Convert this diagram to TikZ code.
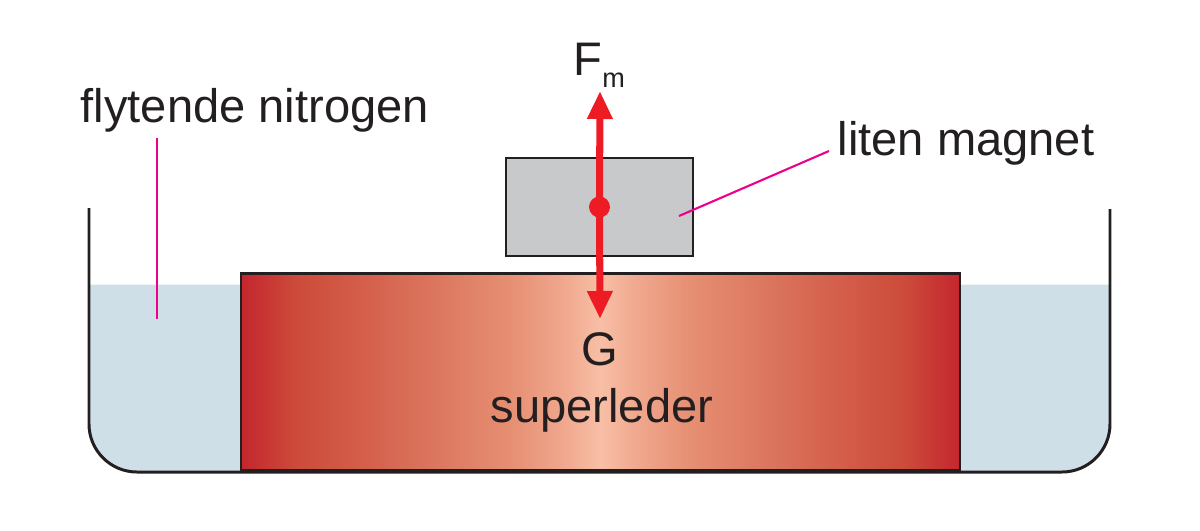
\documentclass[tikz,border=0pt]{standalone}
\usepackage{fontspec}
\setmainfont{Liberation Sans}
\usepackage{tikz}
\usetikzlibrary{arrows.meta, calc}
\definecolor{tankline}{HTML}{231F20}
\definecolor{nitrogen}{HTML}{CEDFE7}
\definecolor{magnetgray}{HTML}{C8C9CB}
\definecolor{scA}{HTML}{C4262E}
\definecolor{scB}{HTML}{CC4A3A}
\definecolor{scC}{HTML}{D4604C}
\definecolor{scD}{HTML}{DC785F}
\definecolor{scE}{HTML}{E68F73}
\definecolor{scF}{HTML}{F0A88E}
\definecolor{scG}{HTML}{F8BFA6}
\definecolor{forcered}{HTML}{ED1C24}
\definecolor{pointercol}{HTML}{EC008C}
\pgfdeclarehorizontalshading{scgradient}{100bp}{%
  color(0bp)=(scA); color(25bp)=(scA); color(28.75bp)=(scB);
  color(33.75bp)=(scC); color(38.75bp)=(scD); color(43.75bp)=(scE);
  color(47.5bp)=(scF); color(50bp)=(scG); color(52.5bp)=(scF);
  color(56.25bp)=(scE); color(61.25bp)=(scD); color(66.25bp)=(scC);
  color(71.25bp)=(scB); color(75bp)=(scA); color(100bp)=(scA)}

\begin{document}
\begin{tikzpicture}[
  txt/.style={inner sep=0pt, font=\fontsize{13.4}{16}\selectfont, text=tankline},
  wall/.style={draw=tankline, line width=0.85pt},
  force/.style={-{Triangle[length=2.8mm, width=2.4mm]}, line width=2pt,
    color=forcered},
  pointer/.style={draw=pointercol, line width=0.6pt},
]
  \useasboundingbox (0,0) rectangle (12,5.3);

  % Liquid nitrogen in the tank
  \fill[nitrogen] (0.89,2.455) -- (0.89,1.06)
    arc[start angle=180, end angle=270, radius=0.48] -- (10.62,0.58)
    arc[start angle=270, end angle=360, radius=0.48] -- (11.10,2.455) -- cycle;

  % Tank
  \draw[wall] (0.89,3.22) -- (0.89,1.06)
    arc[start angle=180, end angle=270, radius=0.48] -- (10.62,0.58)
    arc[start angle=270, end angle=360, radius=0.48] -- (11.10,3.21);

  % Superconductor
  \node[shade, shading=scgradient, draw=tankline, line width=0.85pt,
    inner sep=0pt, minimum width=7.19cm, minimum height=1.97cm] (sc)
    at (6.005,1.585) {};

  % Small magnet
  \node[draw=tankline, fill=magnetgray, line width=0.6pt, inner sep=0pt,
    minimum width=1.87cm, minimum height=0.98cm] (magnet) at (5.995,3.23) {};

  % Forces
  \coordinate (fmtip) at (6.0,4.39);
  \coordinate (gtip) at (6.0,2.11);
  \draw[force] (magnet.center) -- (fmtip);
  \draw[force] (magnet.center) -- (gtip);
  \node[circle, fill=forcered, minimum size=0.21cm, inner sep=0pt] (cm)
    at (magnet.center) {};

  % Labels
  \node[txt, anchor=base west] (fm) at (5.73,4.55)
    {F{\fontsize{7.7}{9}\selectfont\raisebox{-0.12cm}{m}}};
  \node[txt, anchor=base] (g) at (6.0,1.65) {G};
  \node[txt, anchor=base] (sclabel) at (6.02,1.08) {superleder};
  \node[txt, anchor=base west] (nitro) at (0.80,4.08) {flytende nitrogen};
  \node[txt, anchor=base west] (maglabel) at (8.37,3.75) {liten magnet};

  % Pointer lines
  \coordinate (nitrotip) at (1.57,2.11);
  \coordinate (magtip) at (6.79,3.14);
  \draw[pointer] ([yshift=-0.6mm]nitro.south -| nitrotip) -- (nitrotip);
  \draw[pointer] (magtip) -- ([xshift=-0.8mm, yshift=0.4mm]maglabel.base west);
\end{tikzpicture}
\end{document}
